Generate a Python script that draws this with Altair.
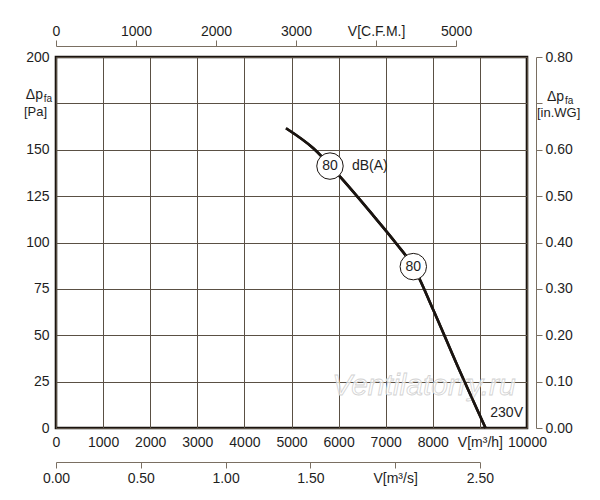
import altair as alt
import pandas as pd

# ---- data ----
flow_m3h = [4883, 5463, 6030, 6737, 7219, 7586, 8011, 8507, 9120]
press_pa = [161.6, 150.8, 135.5, 114.5, 99.6, 87.0, 63.6, 34.5, 0.0]

marker_q = [5817, 7586]
marker_p = [141.2, 87.0]
marker_txt = ["80", "80"]

x_ticks = [0, 1000, 2000, 3000, 4000, 5000, 6000, 7000, 8000, 9000, 10000]
y_ticks = [0, 25, 50, 75, 100, 125, 150, 175, 200]
cfm_ticks = [0, 1000, 2000, 3000, 4000, 5000]
ms_ticks = [0, 0.5, 1.0, 1.5, 2.0, 2.5]
inwg_ticks = [0, 0.1, 0.2, 0.3, 0.4, 0.5, 0.6, 0.7, 0.8]

W, H = 471, 371
CFM = 1.699  # m3/h per CFM
FONT = "Liberation Sans"
TXT = "#1e1e1e"
GRID = "#5a5044"
AX2 = "#7a6f62"

curve = pd.DataFrame({"q": flow_m3h, "p": press_pa})
markers = pd.DataFrame({"q": marker_q, "p": marker_p, "t": marker_txt})


def xs():
    return alt.Scale(domain=[0, 10000], nice=False, zero=False)


def ys():
    return alt.Scale(domain=[0, 200], nice=False, zero=False)


main_x = alt.X("q:Q", scale=xs(), axis=alt.Axis(
    orient="bottom", values=x_ticks, title=None, grid=True, gridColor=GRID, gridWidth=1,
    domain=False, ticks=False, tickSize=0, labelPadding=7, labelFlush=False, labelOverlap=False,
    labelExpr="datum.value == 9000 ? 'V[m³/h]' : '' + datum.value"))
main_y = alt.Y("p:Q", scale=ys(), axis=alt.Axis(
    orient="left", values=y_ticks, title=None, grid=True, gridColor=GRID, gridWidth=1,
    domain=False, ticks=False, tickSize=0, labelPadding=7, labelFlush=False, labelOverlap=False,
    labelExpr="datum.value == 175 ? '' : '' + datum.value"))


def ax():
    return alt.X("q:Q", scale=xs(), axis=None)


def ay():
    return alt.Y("p:Q", scale=ys(), axis=None)


line = alt.Chart(curve).mark_line(color="#1a1410", strokeWidth=2.6, interpolate="monotone").encode(
    x=main_x, y=main_y)

watermark = alt.Chart(pd.DataFrame({"q": [7813], "p": [22.6], "t": ["Ventilatorry.ru"]})).mark_text(
    font=FONT, fontSize=30, fontStyle="italic", fill="white", fillOpacity=0.7, stroke="#d2d2d2",
    strokeWidth=0.8, align="center", baseline="middle").encode(x=ax(), y=ay(), text="t:N")

line_top = alt.Chart(curve).mark_line(color="#1a1410", strokeWidth=2.6, interpolate="monotone").encode(
    x=ax(), y=ay())

circles = alt.Chart(markers).mark_point(shape="circle", size=700, filled=True, fill="white",
                                         stroke="#1a1410", strokeWidth=1, opacity=1).encode(x=ax(), y=ay())
circ_txt = alt.Chart(markers).mark_text(font=FONT, fontSize=14, color=TXT, align="center",
                                        baseline="middle").encode(x=ax(), y=ay(), text="t:N")

db = alt.Chart(markers.iloc[[0]]).mark_text(font=FONT, fontSize=14, color=TXT, align="left",
                                           baseline="middle", dx=22, text="dB(A)").encode(x=ax(), y=ay())

volt = alt.Chart(pd.DataFrame({"q": [10000], "p": [8.0]})).mark_text(
    font=FONT, fontSize=14, color=TXT, align="right", baseline="middle", dx=-4, text="230V").encode(x=ax(), y=ay())


def lab(q, p, text, size, align, dx, dy):
    return alt.Chart(pd.DataFrame({"q": [q], "p": [p]})).mark_text(
        font=FONT, fontSize=size, color=TXT, align=align, baseline="middle", dx=dx, dy=dy,
        text=text).encode(x=ax(), y=ay())


titles = [
    lab(0, 175, "Δp", 14, "right", -13, -8),
    lab(0, 175, "fa", 10, "right", -4, -4),
    lab(0, 175, "[Pa]", 13, "right", -9, 9),
    lab(10000, 175, "Δp", 14, "left", 20, -6),
    lab(10000, 175, "fa", 10, "left", 38, -2),
    lab(10000, 175, "[in.WG]", 13, "left", 10, 10),
]

# secondary axes
cfm_df = pd.DataFrame({"cfm": [0, 5000], "inwg": [0, 0.8]})
cfm_layer = alt.Chart(cfm_df).mark_point(opacity=0).encode(
    x=alt.X("cfm:Q", scale=alt.Scale(domain=[0, 5000], range=[0, W * 5000 * CFM / 10000], nice=False, zero=False),
            axis=alt.Axis(orient="top", offset=11, values=cfm_ticks, title=None, grid=False,
                          domainColor=AX2, tickColor=AX2, tickSize=6, labelPadding=2,
                          labelFlush=False, labelOverlap=False,
                          labelExpr="datum.value == 4000 ? 'V[C.F.M.]' : '' + datum.value")),
    y=alt.Y("inwg:Q", scale=alt.Scale(domain=[0, 0.8], nice=False, zero=False),
            axis=alt.Axis(orient="right", offset=9, values=inwg_ticks, title=None, grid=False,
                          domainColor=AX2, tickColor=AX2, tickSize=6, labelPadding=3,
                          labelFlush=False, labelOverlap=False,
                          labelExpr="abs(datum.value - 0.7) < 0.01 ? '' : format(datum.value, '.2f')")),
)

ms_df = pd.DataFrame({"ms": [0, 2.5]})
ms_layer = alt.Chart(ms_df).mark_point(opacity=0).encode(
    x=alt.X("ms:Q", scale=alt.Scale(domain=[0, 2.5], range=[0, W * 2.5 * 3600 / 10000], nice=False, zero=False),
            axis=alt.Axis(orient="bottom", offset=34, values=ms_ticks, title=None, grid=False,
                          domainColor=AX2, tickColor=AX2, tickSize=6, labelPadding=3,
                          labelFlush=False, labelOverlap=False,
                          labelExpr="abs(datum.value - 2) < 0.01 ? 'V[m³/s]' : format(datum.value, '.2f')")),
)

chart = alt.layer(
    line, cfm_layer, ms_layer, watermark, line_top, circles, circ_txt, db, volt, *titles
).resolve_scale(
    x="independent", y="independent"
).properties(
    width=W, height=H,
    autosize=alt.AutoSizeParams(type="none"),
    padding={"left": 48, "top": 49, "right": 60, "bottom": 60},
    background="white",
).configure_view(
    stroke="#1a1410", strokeWidth=2.6
).configure_axis(
    labelFont=FONT, labelFontSize=14, labelColor=TXT
)

chart.save("out.html", embed_options={"renderer": "svg", "actions": False})
